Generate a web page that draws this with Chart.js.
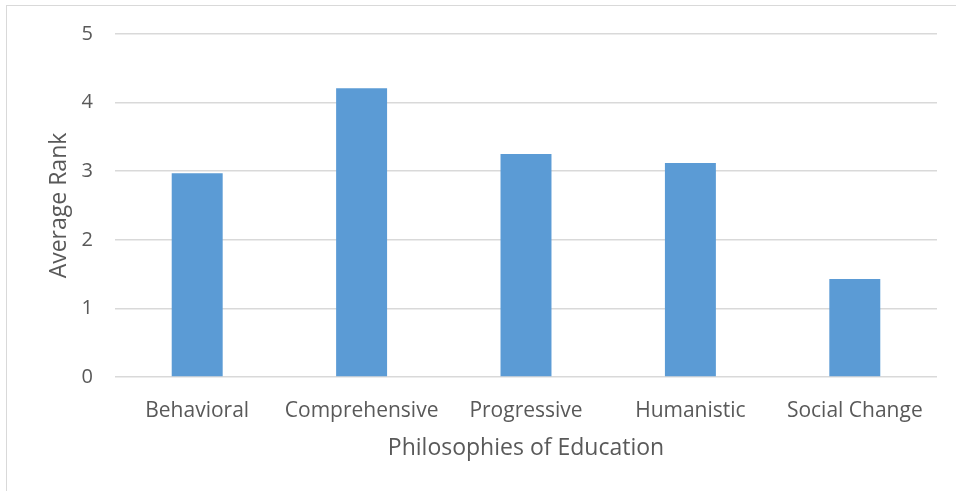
<!DOCTYPE html>
<html>
<head>
<meta charset="utf-8">
<script src="https://cdn.jsdelivr.net/npm/chart.js@4/dist/chart.umd.min.js"></script>
<style>
  html, body { margin: 0; padding: 0; background: #fff; }
  #wrap { position: absolute; left: 0; top: 0; width: 956px; height: 491px; }
  #frame { position: absolute; left: 6px; top: 5px; width: 1000px; height: 600px; border-left: 1px solid #d9d9d9; border-top: 1px solid #d9d9d9; }
</style>
</head>
<body>
<div id="wrap">
  <div id="frame"></div>
  <canvas id="chart" width="956" height="491"></canvas>
</div>
<script>
const categories = ['Behavioral', 'Comprehensive', 'Progressive', 'Humanistic', 'Social Change']
const averageRank = [2.97, 4.21, 3.25, 3.12, 1.43]
const yTicks = [0, 1, 2, 3, 4, 5]

const textColor = '#595959'
const fontFamily = '"Open Sans", "Liberation Sans", sans-serif'

new Chart(document.getElementById('chart'), {
    type: 'bar',
    data: {
        labels: categories,
        datasets: [
            {
                label: 'Average Rank',
                data: averageRank,
                backgroundColor: '#5b9bd5',
                borderColor: '#5b9bd5',
                borderWidth: 0,
                categoryPercentage: 1,
                barPercentage: 0.31
            }
        ]
    },
    options: {
        responsive: false,
        animation: false,
        layout: { padding: { left: 0, right: 19, top: 34, bottom: 0 } },
        plugins: {
            legend: { display: false },
            tooltip: { enabled: false }
        },
        scales: {
            x: {
                afterFit: axis => { axis.height = 114 },
                grid: { display: false, drawTicks: false },
                border: { display: false },
                ticks: {
                    color: textColor,
                    font: { family: fontFamily, size: 21 },
                    padding: 21,
                    maxRotation: 0
                },
                title: {
                    display: true,
                    text: 'Philosophies of Education',
                    color: textColor,
                    font: { family: fontFamily, size: 23 },
                    padding: { top: 0, bottom: 29 }
                }
            },
            y: {
                min: 0,
                max: 5,
                afterFit: axis => { axis.width = 115 },
                afterBuildTicks: axis => { axis.ticks = yTicks.map(v => ({ value: v })) },
                grid: { color: '#d9d9d9', lineWidth: 1.5, drawTicks: false },
                border: { display: false },
                ticks: {
                    color: textColor,
                    font: { family: fontFamily, size: 20 },
                    padding: 22
                },
                title: {
                    display: true,
                    text: 'Average Rank',
                    color: textColor,
                    font: { family: fontFamily, size: 23 },
                    padding: { top: 46, bottom: 0 }
                }
            }
        }
    }
});
</script>
</body>
</html>
